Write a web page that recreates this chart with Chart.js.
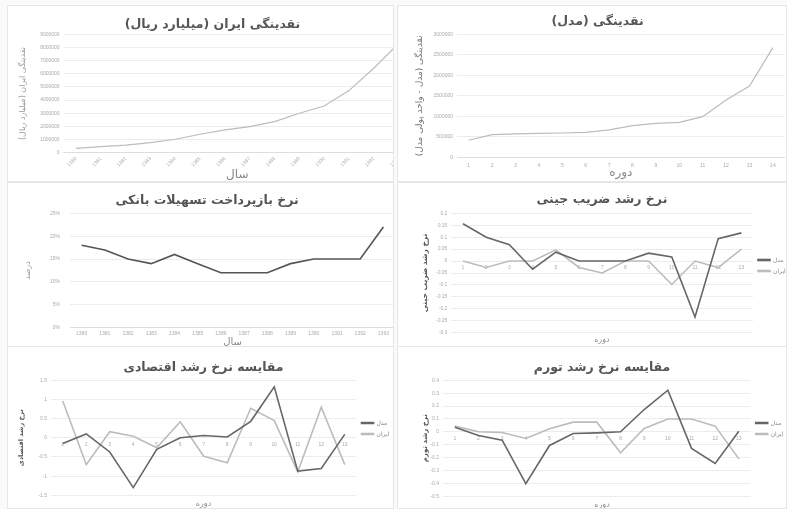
<!DOCTYPE html>
<html>
<head>
<meta charset="utf-8">
<script src="https://cdn.jsdelivr.net/npm/chart.js@4"></script>
<style>
  body { margin: 0; background: #fafafa; width: 787px; height: 509px; overflow: hidden; position: relative; }
  .panel { position: absolute; overflow: hidden; background: #fff; border: 1px solid #e6e6e6; box-sizing: border-box; }
  canvas { position: absolute; left: 0; top: 0; }
</style>
</head>
<body>
<div class="panel" style="left:7px;top:5px;width:387px;height:177px"><canvas id="c1" width="410" height="176"></canvas></div>
<div class="panel" style="left:397px;top:5px;width:390px;height:177px"><canvas id="c2" width="389" height="176"></canvas></div>
<div class="panel" style="left:7px;top:182px;width:387px;height:165px"><canvas id="c3" width="390" height="165"></canvas></div>
<div class="panel" style="left:397px;top:182px;width:390px;height:165px"><canvas id="c4" width="389" height="165"></canvas></div>
<div class="panel" style="left:7px;top:346px;width:387px;height:163px"><canvas id="c5" width="386" height="163"></canvas></div>
<div class="panel" style="left:397px;top:346px;width:390px;height:163px"><canvas id="c6" width="389" height="163"></canvas></div>
<script>
const FA = "'DejaVu Sans', 'Noto Sans', sans-serif";
const RLM = "\u200F";

// داده ها
const years = ["1380", "1381", "1382", "1383", "1384", "1385", "1386", "1387", "1388", "1389", "1390", "1391", "1392", "1393"];
const periods14 = ["1", "2", "3", "4", "5", "6", "7", "8", "9", "10", "11", "12", "13", "14"];
const periods13 = ["1", "2", "3", "4", "5", "6", "7", "8", "9", "10", "11", "12", "13"];

const liquidityIran = [330000, 460000, 580000, 760000, 1020000, 1400000, 1730000, 1980000, 2360000, 3000000, 3550000, 4720000, 6420000, 8300000];
const liquidityModel = [415000, 553000, 569000, 585000, 593000, 610000, 667000, 772000, 829000, 854000, 992000, 1398000, 1740000, 2675000];
const repayRate = [18, 17, 15, 14, 16, 14, 12, 12, 12, 14, 15, 15, 15, 22];
const giniModel = [0.156, 0.1, 0.068, -0.034, 0.037, 0, 0, 0, 0.033, 0.017, -0.234, 0.094, 0.118];
const giniIran = [0, -0.027, 0, 0, 0.047, -0.027, -0.05, 0, 0, -0.098, 0, -0.027, 0.05];
const growthModel = [-0.15, 0.1, -0.37, -1.3, -0.3, 0, 0.06, 0.02, 0.43, 1.33, -0.87, -0.8, 0.09];
const growthIran = [0.96, -0.7, 0.16, 0.04, -0.26, 0.42, -0.48, -0.65, 0.77, 0.45, -0.89, 0.8, -0.7];
const inflModel = [0.036, -0.028, -0.065, -0.403, -0.106, -0.013, -0.008, 0, 0.173, 0.323, -0.129, -0.245, 0.005];
const inflIran = [0.044, 0, -0.005, -0.052, 0.023, 0.075, 0.075, -0.163, 0.026, 0.1, 0.1, 0.044, -0.21];

const DARK = "#666";
const LIGHT = "#bcbcbc";

const fa = t => RLM + t + RLM;

function series(label, data, color, width) {
    return { label: label, data: data, borderColor: color, backgroundColor: color,
             borderWidth: width, pointRadius: 0, tension: 0 };
}

function makeChart(id, labels, datasets, o) {
    return new Chart(document.getElementById(id), {
        type: "line",
        data: { labels: labels, datasets: datasets },
        options: {
            responsive: false,
            animation: false,
            layout: { padding: o.pad },
            plugins: {
                tooltip: { enabled: false },
                title: {
                    display: true, text: fa(o.title), color: "#555",
                    font: { family: FA, size: 12.5, weight: "bold" },
                    padding: o.titlePad
                },
                subtitle: o.sub ? {
                    display: true, position: "bottom", text: fa(o.sub), color: "#888",
                    font: { family: FA, size: 8 }, padding: o.subPad
                } : { display: false },
                legend: o.legend ? {
                    display: true, position: "right", maxWidth: o.legend,
                    labels: { boxWidth: 12, boxHeight: 1, padding: 5, color: "#888",
                              font: { family: FA, size: 6 } }
                } : { display: false }
            },
            scales: {
                x: Object.assign({
                    offset: true,
                    grid: { display: false, drawTicks: false },
                    border: { display: !o.zeroAxis, color: "#ddd" },
                    ticks: { color: "#aaa", font: { size: 5 }, autoSkip: false, padding: o.xPad || 3,
                             minRotation: o.rot || 0, maxRotation: o.rot || 0 },
                    title: o.xTitle ? { display: true, text: fa(o.xTitle), color: "#888",
                                        font: { family: FA, size: o.xTitleSize || 8 }, padding: o.xTitlePad } : { display: false }
                }, o.zeroAxis ? { position: { y: 0 } } : { afterFit: s => { s.height = o.xH; } }),
                y: {
                    min: o.min, max: o.max,
                    grid: { color: "#ececec", drawTicks: false },
                    border: { display: false },
                    ticks: { stepSize: o.step, color: "#aaa", font: { size: 5 }, padding: o.yPad || 4,
                             callback: o.fmt || (v => String(Math.round(v * 1000) / 1000)) },
                    title: { display: true, text: fa(o.yTitle), color: o.yColor || "#999",
                             font: { family: FA, size: o.yTitleSize || 8, weight: o.yBold ? "bold" : "normal" },
                             padding: 4 },
                    afterFit: s => { s.width = o.yW; }
                }
            }
        }
    });
}

makeChart("c1", years, [series("نقدینگی ایران", liquidityIran, LIGHT, 1.2)], {
    title: "نقدینگی ایران (میلیارد ریال)", titlePad: { top: 11.5, bottom: 1.8 },
    pad: { left: 6, right: 7, top: 0, bottom: 0 },
    yW: 49.6, min: 0, max: 9000000, step: 1000000, fmt: v => String(v),
    yTitle: "نقدینگی ایران (میلیارد ریال)",
    xH: 29.3, rot: 45, xPad: 3, xTitle: "سال", xTitleSize: 12, xTitlePad: { top: 0, bottom: 0 }
});

makeChart("c2", periods14, [series("نقدینگی مدل", liquidityModel, LIGHT, 1.2)], {
    title: "نقدینگی (مدل)", titlePad: { top: 8.5, bottom: 4.8 },
    pad: { left: 12.6, right: 2.4, top: 0, bottom: 0 },
    yW: 46.4, min: 0, max: 3000000, step: 500000, fmt: v => String(v),
    yTitle: "نقدینگی (مدل - واحد پولی مدل)", yTitleSize: 9, yColor: "#777",
    xH: 24.7, xPad: 5, xTitle: "دوره", xTitleSize: 12, xTitlePad: { top: 0, bottom: 1.5 }
});

makeChart("c3", years, [series("نرخ بازپرداخت", repayRate, "#555", 1.6)], {
    title: "نرخ بازپرداخت تسهیلات بانکی", titlePad: { top: 10.5, bottom: 4.8 },
    pad: { left: 11.2, right: 3, top: 0, bottom: 0 },
    yW: 50.8, yPad: 10, min: 0, max: 25, step: 5, fmt: v => v + "%",
    yTitle: "درصد",
    xH: 20.3, xPad: 3, xTitle: "سال", xTitleSize: 10, xTitlePad: { top: 0, bottom: 0 }
});

makeChart("c4", periods13, [series("مدل", giniModel, DARK, 1.6), series("ایران", giniIran, LIGHT, 1.6)], {
    title: "نرخ رشد ضریب جینی", titlePad: { top: 9.5, bottom: 5.8 },
    pad: { left: 18.8, right: 0, top: 0, bottom: 0 },
    yW: 34.6, min: -0.3, max: 0.2, step: 0.05,
    yTitle: "نرخ رشد ضریب جینی", yTitleSize: 7.5, yBold: true, yColor: "#555",
    zeroAxis: true, xPad: 4, legend: 34,
    sub: "دوره", subPad: { top: 2.5, bottom: 3.2 }
});

makeChart("c5", periods13, [series("مدل", growthModel, DARK, 1.6), series("ایران", growthIran, LIGHT, 1.6)], {
    title: "مقایسه نرخ رشد اقتصادی", titlePad: { top: 13.2, bottom: 5.1 },
    pad: { left: 5.1, right: 0, top: 0, bottom: 0 },
    yW: 37.9, min: -1.5, max: 1.5, step: 0.5,
    yTitle: "نرخ رشد اقتصادی", yTitleSize: 6.5, yBold: true, yColor: "#555",
    zeroAxis: true, xPad: 4, legend: 37.5,
    sub: "دوره", subPad: { top: 4.2, bottom: 0.9 }
});

makeChart("c6", periods13, [series("مدل", inflModel, DARK, 1.6), series("ایران", inflIran, LIGHT, 1.6)], {
    title: "مقایسه نرخ رشد تورم", titlePad: { top: 13.2, bottom: 5.1 },
    pad: { left: 19.1, right: 0, top: 0, bottom: 0 },
    yW: 25.9, min: -0.5, max: 0.4, step: 0.1,
    yTitle: "نرخ رشد تورم", yTitleSize: 7, yBold: true, yColor: "#555",
    zeroAxis: true, xPad: 4, legend: 36.3,
    sub: "دوره", subPad: { top: 4.2, bottom: 0 }
});
</script>
</body>
</html>
